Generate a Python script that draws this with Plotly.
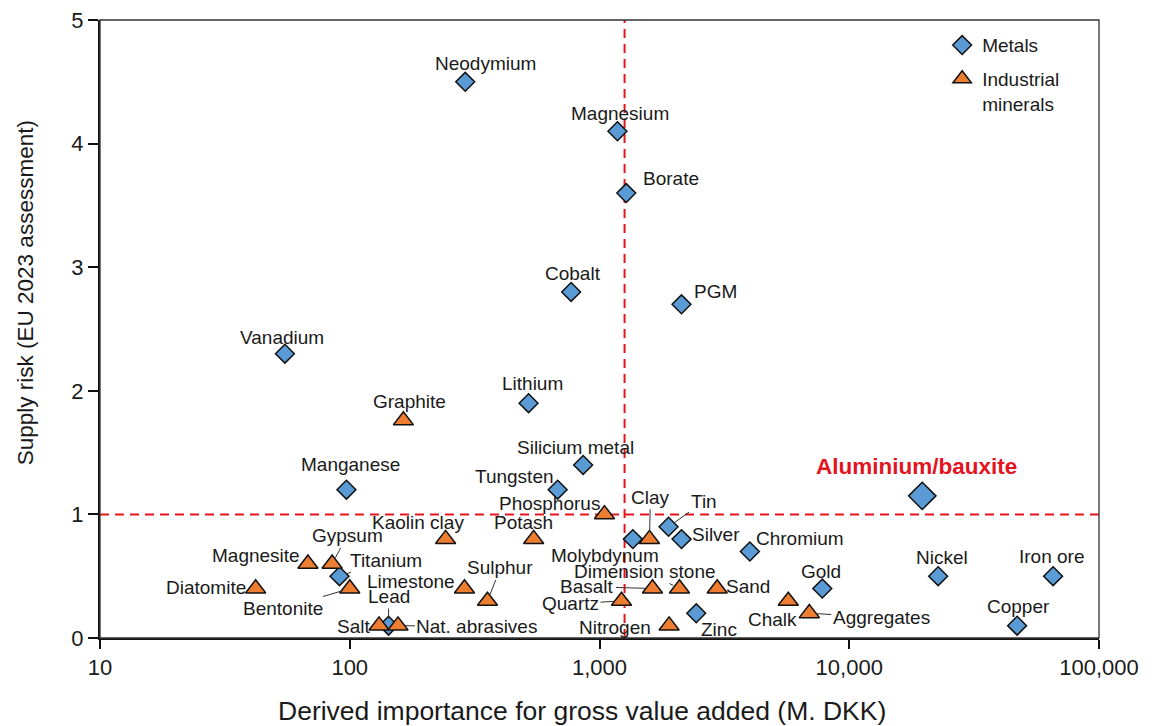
import numpy as np
import plotly.graph_objects as go

# ---- data -------------------------------------------------------------
metal_names = [
    "Neodymium", "Magnesium", "Borate", "Cobalt", "PGM", "Vanadium", "Lithium",
    "Silicium metal", "Tungsten", "Manganese", "Tin", "Molybdynum", "Silver",
    "Chromium", "Titanium", "Nickel", "Iron ore", "Gold", "Zinc", "Copper", "Lead",
]
metal_gva = [
    290, 1180, 1280, 770, 2130, 55, 520,
    860, 680, 97, 1890, 1360, 2130,
    4000, 91, 22700, 65500, 7800, 2440, 47000, 143,
]
metal_risk = [
    4.5, 4.1, 3.6, 2.8, 2.7, 2.3, 1.9,
    1.4, 1.2, 1.2, 0.9, 0.8, 0.8,
    0.7, 0.5, 0.5, 0.5, 0.4, 0.2, 0.1, 0.1,
]

highlight_name = "Aluminium/bauxite"
highlight_gva = 19600
highlight_risk = 1.15

mineral_names = [
    "Graphite", "Phosphorus", "Clay", "Kaolin clay", "Potash", "Magnesite",
    "Gypsum", "Diatomite", "Bentonite", "Limestone", "Sulphur", "Basalt",
    "Dimension stone", "Sand", "Quartz", "Nitrogen", "Chalk", "Aggregates",
    "Salt", "Nat. abrasives",
]
mineral_gva = [
    164, 1047, 1585, 242, 545, 68,
    85, 42, 100, 288, 356, 1630,
    2090, 2960, 1225, 1900, 5700, 6920,
    131, 156,
]
mineral_risk = [
    1.76, 1.0, 0.8, 0.8, 0.8, 0.6,
    0.6, 0.4, 0.4, 0.4, 0.3, 0.4,
    0.4, 0.4, 0.3, 0.1, 0.3, 0.2,
    0.1, 0.1,
]

risk_threshold = 1.0
gva_threshold = 1260

x_tick_values = [10, 100, 1000, 10000, 100000]
x_tick_labels = ["10", "100", "1,000", "10,000", "100,000"]
y_tick_values = [0, 1, 2, 3, 4, 5]

# ---- label placement (pixel offsets of the label centre from its marker,
#      screen y downwards; leader=True draws a thin connector line) ------
label_style = {
    "Neodymium": (20, -18, False), "Magnesium": (3, -18, False),
    "Borate": (45, -15, False), "Cobalt": (2, -18, False),
    "PGM": (34, -13, False), "Vanadium": (-3, -16, False),
    "Lithium": (4, -20, False), "Graphite": (6, -19, False),
    "Silicium metal": (-8, -17, False), "Manganese": (4, -25, False),
    "Tungsten": (-43, -13, False), "Phosphorus": (-55, -11, False),
    "Clay": (1, -42, True), "Tin": (35, -25, True),
    "Kaolin clay": (-28, -17, False), "Potash": (-10, -17, False),
    "Molybdynum": (-28, 16, True), "Silver": (34, -5, False),
    "Chromium": (50, -13, False), "Gypsum": (15, -28, True),
    "Magnesite": (-52, -8, False), "Titanium": (46, -16, True),
    "Diatomite": (-50, -1, False), "Bentonite": (-67, 20, True),
    "Limestone": (-53, -7, False), "Lead": (0, -29, True),
    "Sulphur": (13, -33, True), "Salt": (-26, 1, False),
    "Nat. abrasives": (79, 1, True), "Basalt": (-65, -2, True),
    "Dimension stone": (-34, -17, True), "Sand": (31, -2, False),
    "Quartz": (-51, 3, True), "Nitrogen": (-54, 2, False),
    "Zinc": (23, 16, True), "Chalk": (-16, 19, False),
    "Aggregates": (72, 4, True), "Gold": (-1, -17, False),
    "Nickel": (4, -19, False), "Iron ore": (-2, -20, False),
    "Copper": (1, -19, False),
}

FONT = "Liberation Sans, Arial, sans-serif"
TEXT = "#1a1a1a"
BLUE = "#5B9BD5"
ORANGE = "#ED7D31"
RED = "#E3141E"
LABEL_SIZE = 19

fig = go.Figure()

# reference lines
fig.add_trace(go.Scatter(
    x=[x_tick_values[0], x_tick_values[-1]], y=[risk_threshold, risk_threshold],
    mode="lines", line=dict(color=RED, width=2, dash="9px,6px"),
    hoverinfo="skip", showlegend=False,
))
fig.add_trace(go.Scatter(
    x=[gva_threshold, gva_threshold], y=[y_tick_values[0], y_tick_values[-1]],
    mode="lines", line=dict(color=RED, width=2, dash="9px,6px"),
    hoverinfo="skip", showlegend=False,
))

outline = dict(color="#111111", width=1.5)

fig.add_trace(go.Scatter(
    x=metal_gva, y=metal_risk, text=metal_names, mode="markers", name="Metals",
    legendgroup="metals",
    marker=dict(symbol="diamond", size=14.5, color=BLUE, line=outline),
))
fig.add_trace(go.Scatter(
    x=[highlight_gva], y=[highlight_risk], text=[highlight_name], mode="markers",
    legendgroup="metals", showlegend=False,
    marker=dict(symbol="diamond", size=21, color=BLUE, line=outline),
))
fig.add_trace(go.Scatter(
    x=mineral_gva, y=mineral_risk, text=mineral_names, mode="markers",
    name="Industrial<br>minerals", legendgroup="minerals",
    marker=dict(symbol="triangle-up", size=17.5, color=ORANGE, line=outline),
))

# point labels
annotations = []
for names, xs, ys in ((metal_names, metal_gva, metal_risk),
                      (mineral_names, mineral_gva, mineral_risk)):
    for name, xv, yv in zip(names, xs, ys):
        dx, dy, leader = label_style[name]
        base = dict(x=np.log10(xv), y=yv, xref="x", yref="y", text=name,
                    font=dict(family=FONT, size=LABEL_SIZE, color=TEXT))
        if leader:
            annotations.append(dict(base, showarrow=True, ax=dx, ay=dy,
                                    axref="pixel", ayref="pixel",
                                    arrowhead=0, arrowwidth=1,
                                    arrowcolor="#333333", standoff=7))
        else:
            annotations.append(dict(base, showarrow=False,
                                    xshift=dx, yshift=-dy))

annotations.append(dict(
    x=np.log10(highlight_gva), y=highlight_risk, xref="x", yref="y",
    text="<b>%s</b>" % highlight_name, showarrow=False, xshift=-6, yshift=29,
    font=dict(family=FONT, size=22.5, color=RED),
))

# axis titles
annotations.append(dict(
    x=-0.075, y=0.558, xref="paper", yref="paper", textangle=-90,
    text="Supply risk (EU 2023 assessment)", showarrow=False,
    xanchor="center", yanchor="middle",
    font=dict(family=FONT, size=22.5, color=TEXT),
))
annotations.append(dict(
    x=0.482, y=-0.118, xref="paper", yref="paper",
    text="Derived importance for gross value added (M. DKK)", showarrow=False,
    xanchor="center", yanchor="middle",
    font=dict(family=FONT, size=26.5, color=TEXT),
))

fig.update_layout(
    template="none",
    width=1152, height=726,
    margin=dict(l=100, r=53, t=20, b=88, autoexpand=False),
    paper_bgcolor="white", plot_bgcolor="white",
    font=dict(family=FONT, color=TEXT),
    annotations=annotations,
    showlegend=True,
    legend=dict(
        x=0.843, y=0.990, xanchor="left", yanchor="top",
        font=dict(family=FONT, size=LABEL_SIZE, color=TEXT),
        bgcolor="rgba(0,0,0,0)", borderwidth=0, valign="top", tracegroupgap=6,
    ),
    shapes=[dict(type="rect", xref="paper", yref="paper", x0=0, x1=1, y0=0, y1=1,
                 line=dict(color="#333333", width=1.3), layer="above")],
)

fig.update_xaxes(
    type="log", range=[np.log10(x_tick_values[0]), np.log10(x_tick_values[-1])],
    tickmode="array", tickvals=x_tick_values, ticktext=x_tick_labels,
    ticks="outside", ticklen=9, tickwidth=1.5, tickcolor="#111111",
    showline=True, linewidth=2, linecolor="#111111", mirror=False,
    showgrid=False, zeroline=False, automargin=False,
    tickfont=dict(family=FONT, size=22, color=TEXT),
)
fig.update_yaxes(
    range=[y_tick_values[0], y_tick_values[-1]],
    tickmode="array", tickvals=y_tick_values,
    ticks="outside", ticklen=10, tickwidth=1.5, tickcolor="#111111",
    showline=True, linewidth=2, linecolor="#111111", mirror=False,
    showgrid=False, zeroline=False, automargin=False,
    tickfont=dict(family=FONT, size=22, color=TEXT),
)

fig.write_html("out.html")
